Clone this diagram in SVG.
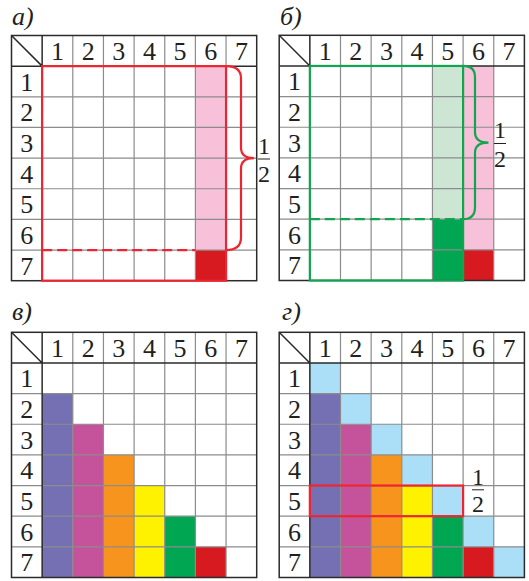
<svg xmlns="http://www.w3.org/2000/svg" xmlns:xlink="http://www.w3.org/1999/xlink" width="529" height="581" viewBox="0 0 529 581">
<style>
.num{font-family:"Liberation Serif","DejaVu Serif",serif;font-size:26px;fill:#231f20;text-anchor:middle}
.frac{font-family:"Liberation Serif","DejaVu Serif",serif;font-size:24px;fill:#231f20;text-anchor:middle}
.lbl{font-family:"Liberation Serif","DejaVu Serif",serif;font-style:italic;font-size:26px;fill:#231f20}
.gl{stroke:#8c8c8c;stroke-width:1.2;fill:none}
.gd{stroke:#2b2b2b;stroke-width:1.5;fill:none}
.pink{fill:#f6c1d9}.dred{fill:#d71920}.lgreen{fill:#cde6d4}.green{fill:#00a651}
.purple{fill:#7570b3}.mag{fill:#c4539b}.orange{fill:#f7941d}.yellow{fill:#fff200}.lblue{fill:#abdff8}
.ro{stroke:#ee2530;stroke-width:2.2;fill:none}
.go{stroke:#12a550;stroke-width:2.2;fill:none}
.dash{stroke-dasharray:10 5}
.bar{stroke:#231f20;stroke-width:1}
</style>
<defs>
<g id="grid">
<path class="gl" d="M61.3,0V245.2M91.95,0V245.2M122.6,0V245.2M153.25,0V245.2M183.9,0V245.2M214.55,0V245.2M0,61.3H245.2M0,91.95H245.2M0,122.6H245.2M0,153.25H245.2M0,183.9H245.2M0,214.55H245.2"/>
<path class="gd" d="M30.65,0V245.2M0,30.65H245.2M0,0L30.65,30.65"/>
<rect class="gd" x="0" y="0" width="245.2" height="245.2"/>
<g class="num">
<text x="45.975" y="24.5">1</text><text x="76.625" y="24.5">2</text><text x="107.275" y="24.5">3</text><text x="137.925" y="24.5">4</text><text x="168.575" y="24.5">5</text><text x="199.225" y="24.5">6</text><text x="229.875" y="24.5">7</text>
<text x="15.325" y="55.1">1</text><text x="15.325" y="85.8">2</text><text x="15.325" y="116.4">3</text><text x="15.325" y="147.1">4</text><text x="15.325" y="177.7">5</text><text x="15.325" y="208.4">6</text><text x="15.325" y="239">7</text>
</g>
</g>
<g id="stairs">
<rect class="purple" x="30.65" y="61.3" width="30.65" height="183.9"/>
<rect class="mag" x="61.3" y="91.95" width="30.65" height="153.25"/>
<rect class="orange" x="91.95" y="122.6" width="30.65" height="122.6"/>
<rect class="yellow" x="122.6" y="153.25" width="30.65" height="91.95"/>
<rect class="green" x="153.25" y="183.9" width="30.65" height="61.3"/>
<rect class="dred" x="183.9" y="214.55" width="30.65" height="30.65"/>
</g>
</defs>

<g id="panel-a">
<text class="lbl" x="12" y="25">а)</text>
<g transform="translate(11.5,35.5)">
<rect class="pink" x="183.9" y="30.65" width="30.65" height="183.9"/>
<rect class="dred" x="183.9" y="214.55" width="30.65" height="30.65"/>
<use xlink:href="#grid"/>
<rect class="ro" x="30.65" y="30.65" width="183.9" height="214.55"/>
<path class="ro dash" d="M30.65,214.55H183.9"/>
<path class="ro" d="M214.55,30.65Q229.5,30.65 229.5,43L229.5,112Q229.5,122.6 242.5,122.6Q229.5,122.6 229.5,133L229.5,202Q229.5,214.55 214.55,214.55"/>
<text class="frac" x="252.5" y="118">1</text>
<path class="bar" d="M246.5,123.5H258.5"/>
<text class="frac" x="252.5" y="146">2</text>
</g>
</g>

<g id="panel-b">
<text class="lbl" x="280" y="25">б)</text>
<g transform="translate(279.2,35.3)">
<rect class="lgreen" x="153.25" y="30.65" width="30.65" height="153.25"/>
<rect class="green" x="153.25" y="183.9" width="30.65" height="61.3"/>
<rect class="pink" x="183.9" y="30.65" width="30.65" height="183.9"/>
<rect class="dred" x="183.9" y="214.55" width="30.65" height="30.65"/>
<use xlink:href="#grid"/>
<rect class="go" x="30.65" y="30.65" width="153.25" height="214.55"/>
<path class="go dash" d="M30.65,183.9H183.9"/>
<path class="go" d="M183.9,30.65Q195.8,30.65 195.8,42L195.8,97Q195.8,107.3 209.3,107.3Q195.8,107.3 195.8,117.5L195.8,172Q195.8,183.9 183.9,183.9"/>
<text class="frac" x="220.8" y="103">1</text>
<path class="bar" d="M214.8,108.2H226.8"/>
<text class="frac" x="220.8" y="131.5">2</text>
</g>
</g>

<g id="panel-c">
<text class="lbl" x="12" y="320">в)</text>
<g transform="translate(11.5,332.3)">
<use xlink:href="#stairs"/>
<use xlink:href="#grid"/>
</g>
</g>

<g id="panel-d">
<text class="lbl" x="282" y="320">г)</text>
<g transform="translate(279.2,332.3)">
<use xlink:href="#stairs"/>
<rect class="lblue" x="30.65" y="30.65" width="30.65" height="30.65"/>
<rect class="lblue" x="61.3" y="61.3" width="30.65" height="30.65"/>
<rect class="lblue" x="91.95" y="91.95" width="30.65" height="30.65"/>
<rect class="lblue" x="122.6" y="122.6" width="30.65" height="30.65"/>
<rect class="lblue" x="153.25" y="153.25" width="30.65" height="30.65"/>
<rect class="lblue" x="183.9" y="183.9" width="30.65" height="30.65"/>
<rect class="lblue" x="214.55" y="214.55" width="30.65" height="30.65"/>
<use xlink:href="#grid"/>
<rect class="ro" x="30.65" y="153.25" width="153.25" height="30.65"/>
<text class="frac" x="198.8" y="152.5">1</text>
<path class="bar" d="M192.8,157.5H204.8"/>
<text class="frac" x="198.8" y="180">2</text>
</g>
</g>
</svg>
